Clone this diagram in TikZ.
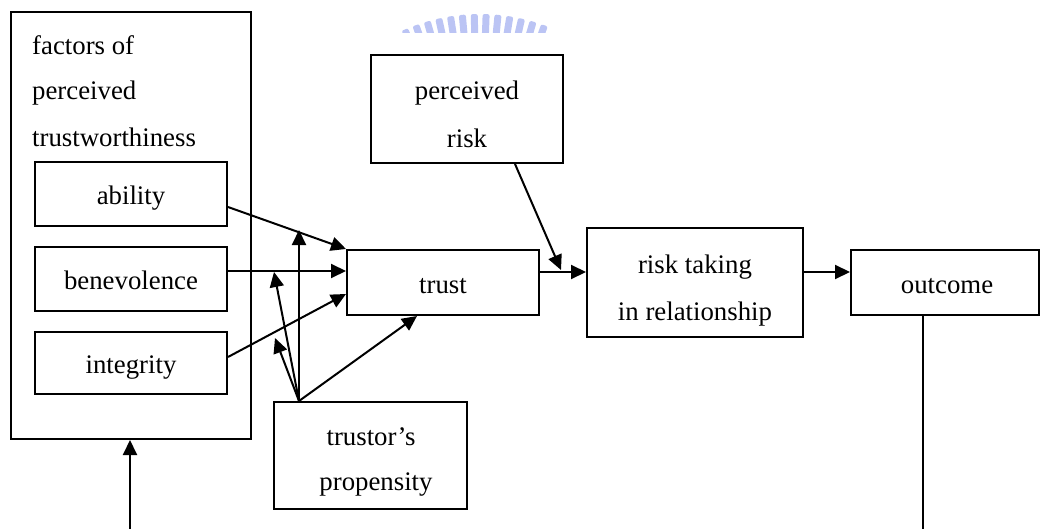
\documentclass[tikz,border=0pt]{standalone}
\usepackage{fontspec}
\setmainfont{Liberation Serif}
\usetikzlibrary{arrows.meta}
\definecolor{wmblue}{RGB}{150,165,238}
\begin{document}
\begin{tikzpicture}[x=1pt,y=-1pt,
  box/.style={draw, line width=2pt, rectangle, inner sep=0pt,
    font=\fontsize{26.8pt}{32pt}\selectfont, text height=21pt, text depth=0pt},
  lbl/.style={inner sep=0pt, font=\fontsize{26.8pt}{32pt}\selectfont},
  arr/.style={line width=2pt, -{Triangle[length=15pt,width=14pt]}},
  ln/.style={line width=2pt}]
\useasboundingbox (0,0) rectangle (1040,529);
% watermark
\begin{scope}
\clip (380,0) rectangle (580,33);
\foreach \a in {-20,-16.4,...,25} \fill[wmblue, opacity=0.65, rounded corners=2pt, rotate around={\a:(480,204)}] (476,14) rectangle (483,40);
\end{scope}
% boxes
\node[box, minimum width=240pt, minimum height=427pt] (outer) at (131,225.5) {};
\node[lbl, anchor=base west] (f1) at (32,55) {factors of};
\node[lbl, anchor=base west] (f2) at (32,100) {perceived};
\node[lbl, anchor=base west] (f3) at (32,147) {trustworthiness};
\node[box, minimum width=192pt, minimum height=64pt] (ability) at (131,194) {ability};
\node[box, minimum width=192pt, minimum height=64pt] (benev) at (131,279) {benevolence};
\node[box, minimum width=192pt, minimum height=62pt] (integ) at (131,363) {integrity};
\node[box, minimum width=192pt, minimum height=65pt] (trust) at (443,282.5) {trust};
\node[box, minimum width=192pt, minimum height=108pt] (prisk) at (467,109) {};
\node[lbl, anchor=base] (pr1) at (467,100) {perceived};
\node[lbl, anchor=base] (pr2) at (467,148) {risk};
\node[box, minimum width=216pt, minimum height=109pt] (risk) at (695,282.5) {};
\node[lbl, anchor=base] (rt1) at (695,273) {risk taking};
\node[lbl, anchor=base] (rt2) at (695,320) {in relationship};
\node[box, minimum width=188pt, minimum height=65pt] (outcome) at (945,282.5) {};
\node[lbl, anchor=base] (oc) at (947,293) {outcome};
\node[box, minimum width=193pt, minimum height=107pt] (prop) at (370.5,455.5) {};
\node[lbl, anchor=base] (tp1) at (371,445) {trustor’s};
\node[lbl, anchor=base] (tp2) at (376,490) {propensity};
% coordinates
\coordinate (a1) at ([yshift=-13pt]ability.east);
\coordinate (b1) at ([yshift=8pt]benev.east);
\coordinate (i1) at ([yshift=6pt]integ.east);
\coordinate (i2) at ([yshift=-11.5pt]trust.west);
\coordinate (P) at ([xshift=-71.5pt]prop.north);
\coordinate (tA) at (299,230);
\coordinate (tB) at (274,272);
\coordinate (tC) at (275,338);
\coordinate (tD) at ([xshift=-26pt]trust.south);
\coordinate (pr) at ([xshift=48pt]prisk.south);
\coordinate (rk) at ([xshift=-25pt,yshift=12.5pt]risk.west);
\coordinate (t1) at ([yshift=10.5pt]trust.east);
\coordinate (r1) at ([yshift=10.5pt]risk.east);
\coordinate (o1) at ([xshift=-22pt]outcome.south);
\coordinate (oend) at (923,529);
\coordinate (bot) at (130,529);
% connectors
\draw[arr] (a1) -- (trust.north west);
\draw[arr] (b1) -- (b1 -| trust.west);
\draw[arr] (i1) -- (i2);
\draw[arr] (P) -- (tA);
\draw[arr] (P) -- (tB);
\draw[arr] (P) -- (tC);
\draw[arr] (P) -- (tD);
\draw[arr] (pr) -- (rk);
\draw[arr] (t1) -- (t1 -| risk.west);
\draw[arr] (r1) -- (r1 -| outcome.west);
\draw[ln] (o1) -- (oend);
\draw[arr] (bot) -- (bot |- outer.south);
\end{tikzpicture}
\end{document}
